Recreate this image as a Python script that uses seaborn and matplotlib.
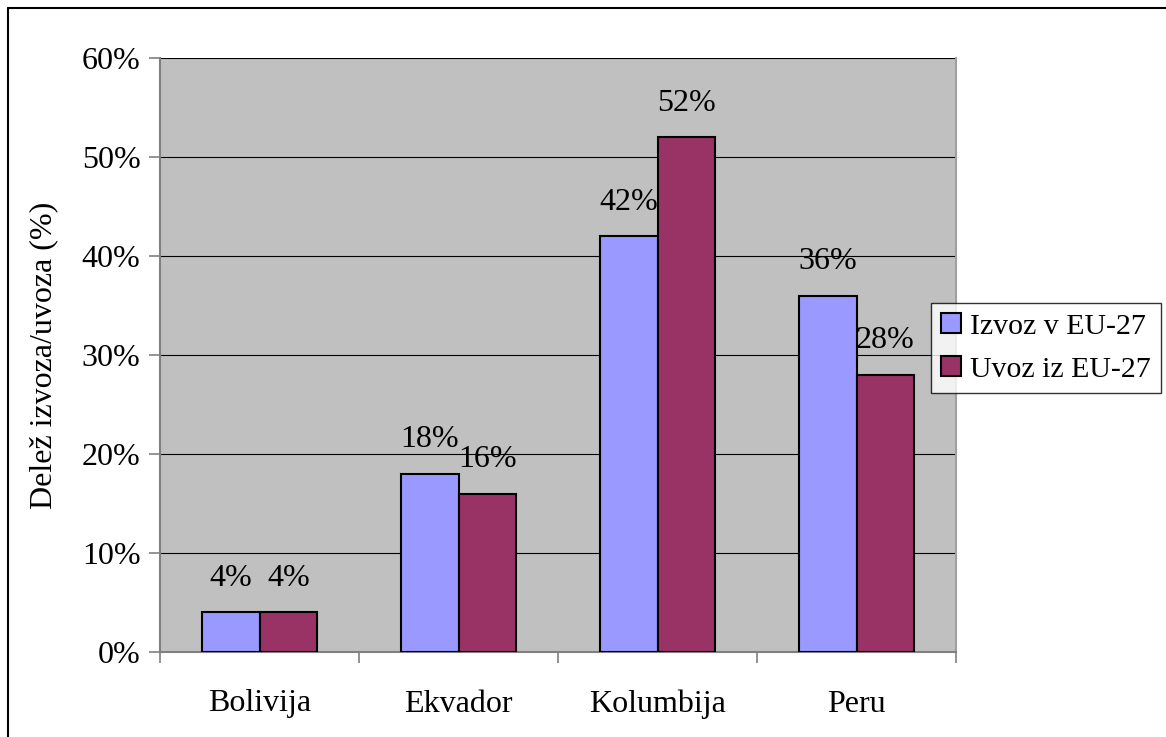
import pandas as pd
import seaborn as sns
import matplotlib.pyplot as plt
from matplotlib.lines import Line2D

# data
countries = ['Bolivija', 'Ekvador', 'Kolumbija', 'Peru']
izvoz = [4, 18, 42, 36]   # Izvoz v EU-27 (%)
uvoz = [4, 16, 52, 28]    # Uvoz iz EU-27 (%)
series = ['Izvoz v EU-27', 'Uvoz iz EU-27']
colors = ['#9999FF', '#993366']

df = pd.DataFrame({
    'country': countries * 2,
    'value': izvoz + uvoz,
    'series': [series[0]] * len(countries) + [series[1]] * len(countries),
})

sns.set_style('white')
plt.rcParams['font.family'] = ['Liberation Serif', 'DejaVu Serif']
plt.rcParams['text.color'] = 'black'
plt.rcParams['xtick.color'] = 'black'
plt.rcParams['ytick.color'] = 'black'
plt.rcParams['axes.labelcolor'] = 'black'

FS = 23

fig = plt.figure(figsize=(11.66, 7.37), dpi=100)
ax = fig.add_axes([160 / 1166, 1 - 652 / 737, 796 / 1166, 594 / 737])
ax.set_facecolor('#C0C0C0')

sns.barplot(data=df, x='country', y='value', hue='series', palette=colors,
            saturation=1, width=0.58, edgecolor='black', linewidth=1.5,
            ax=ax, zorder=3)

ax.set_ylim(0, 60)
ax.set_xlim(-0.5, 3.5)
ax.set_yticks(range(0, 61, 10))
ax.set_yticklabels([f'{v}%' for v in range(0, 61, 10)], fontsize=FS)
ax.yaxis.grid(True, color='black', linewidth=0.8, zorder=1)
ax.set_axisbelow(True)

# category ticks sit between groups, labels centred
ax.set_xticks(range(len(countries)))
ax.set_xticklabels(countries, fontsize=FS)
ax.set_xticks([-0.5, 0.5, 1.5, 2.5, 3.5], minor=True)
ax.tick_params(axis='x', which='major', bottom=False, length=0, pad=27)
ax.tick_params(axis='x', which='minor', bottom=True, length=8, width=1.2,
               color='#808080', direction='out')
ax.tick_params(axis='y', left=True, length=8, width=1.2, color='#808080',
               direction='out', pad=6)

ax.set_xlabel('')
ax.set_ylabel('Delež izvoza/uvoza (%)', fontsize=FS, labelpad=17)

ax.spines['top'].set_visible(False)
for s in ['left', 'bottom', 'right']:
    ax.spines[s].set_color('#808080')
    ax.spines[s].set_linewidth(1.5)
ax.spines['right'].set_color('#A0A0A0')

for cont in ax.containers:
    ax.bar_label(cont, labels=[f'{v:.0f}%' for v in cont.datavalues],
                 fontsize=FS, padding=14)

handles = [plt.Rectangle((0, 0), 1, 1, facecolor=c, edgecolor='black', linewidth=1.5)
           for c in colors]
leg = ax.legend(handles, series, loc='upper left',
                bbox_to_anchor=(931 / 1166, 1 - 303 / 737), bbox_transform=fig.transFigure,
                fontsize=21.5, frameon=True, fancybox=False, borderpad=0.35,
                borderaxespad=0, handlelength=0.65, handleheight=0.65,
                handletextpad=0.3, labelspacing=0.55)
leg.get_frame().set_edgecolor('black')
leg.get_frame().set_linewidth(1)

# chart border (left and top only visible in the original)
fig.add_artist(Line2D([8 / 1166, 8 / 1166], [0, 1 - 8 / 737], color='black', lw=1.5))
fig.add_artist(Line2D([8 / 1166, 1], [1 - 8 / 737, 1 - 8 / 737], color='black', lw=1.5))

fig.savefig('out.png', dpi=100)
